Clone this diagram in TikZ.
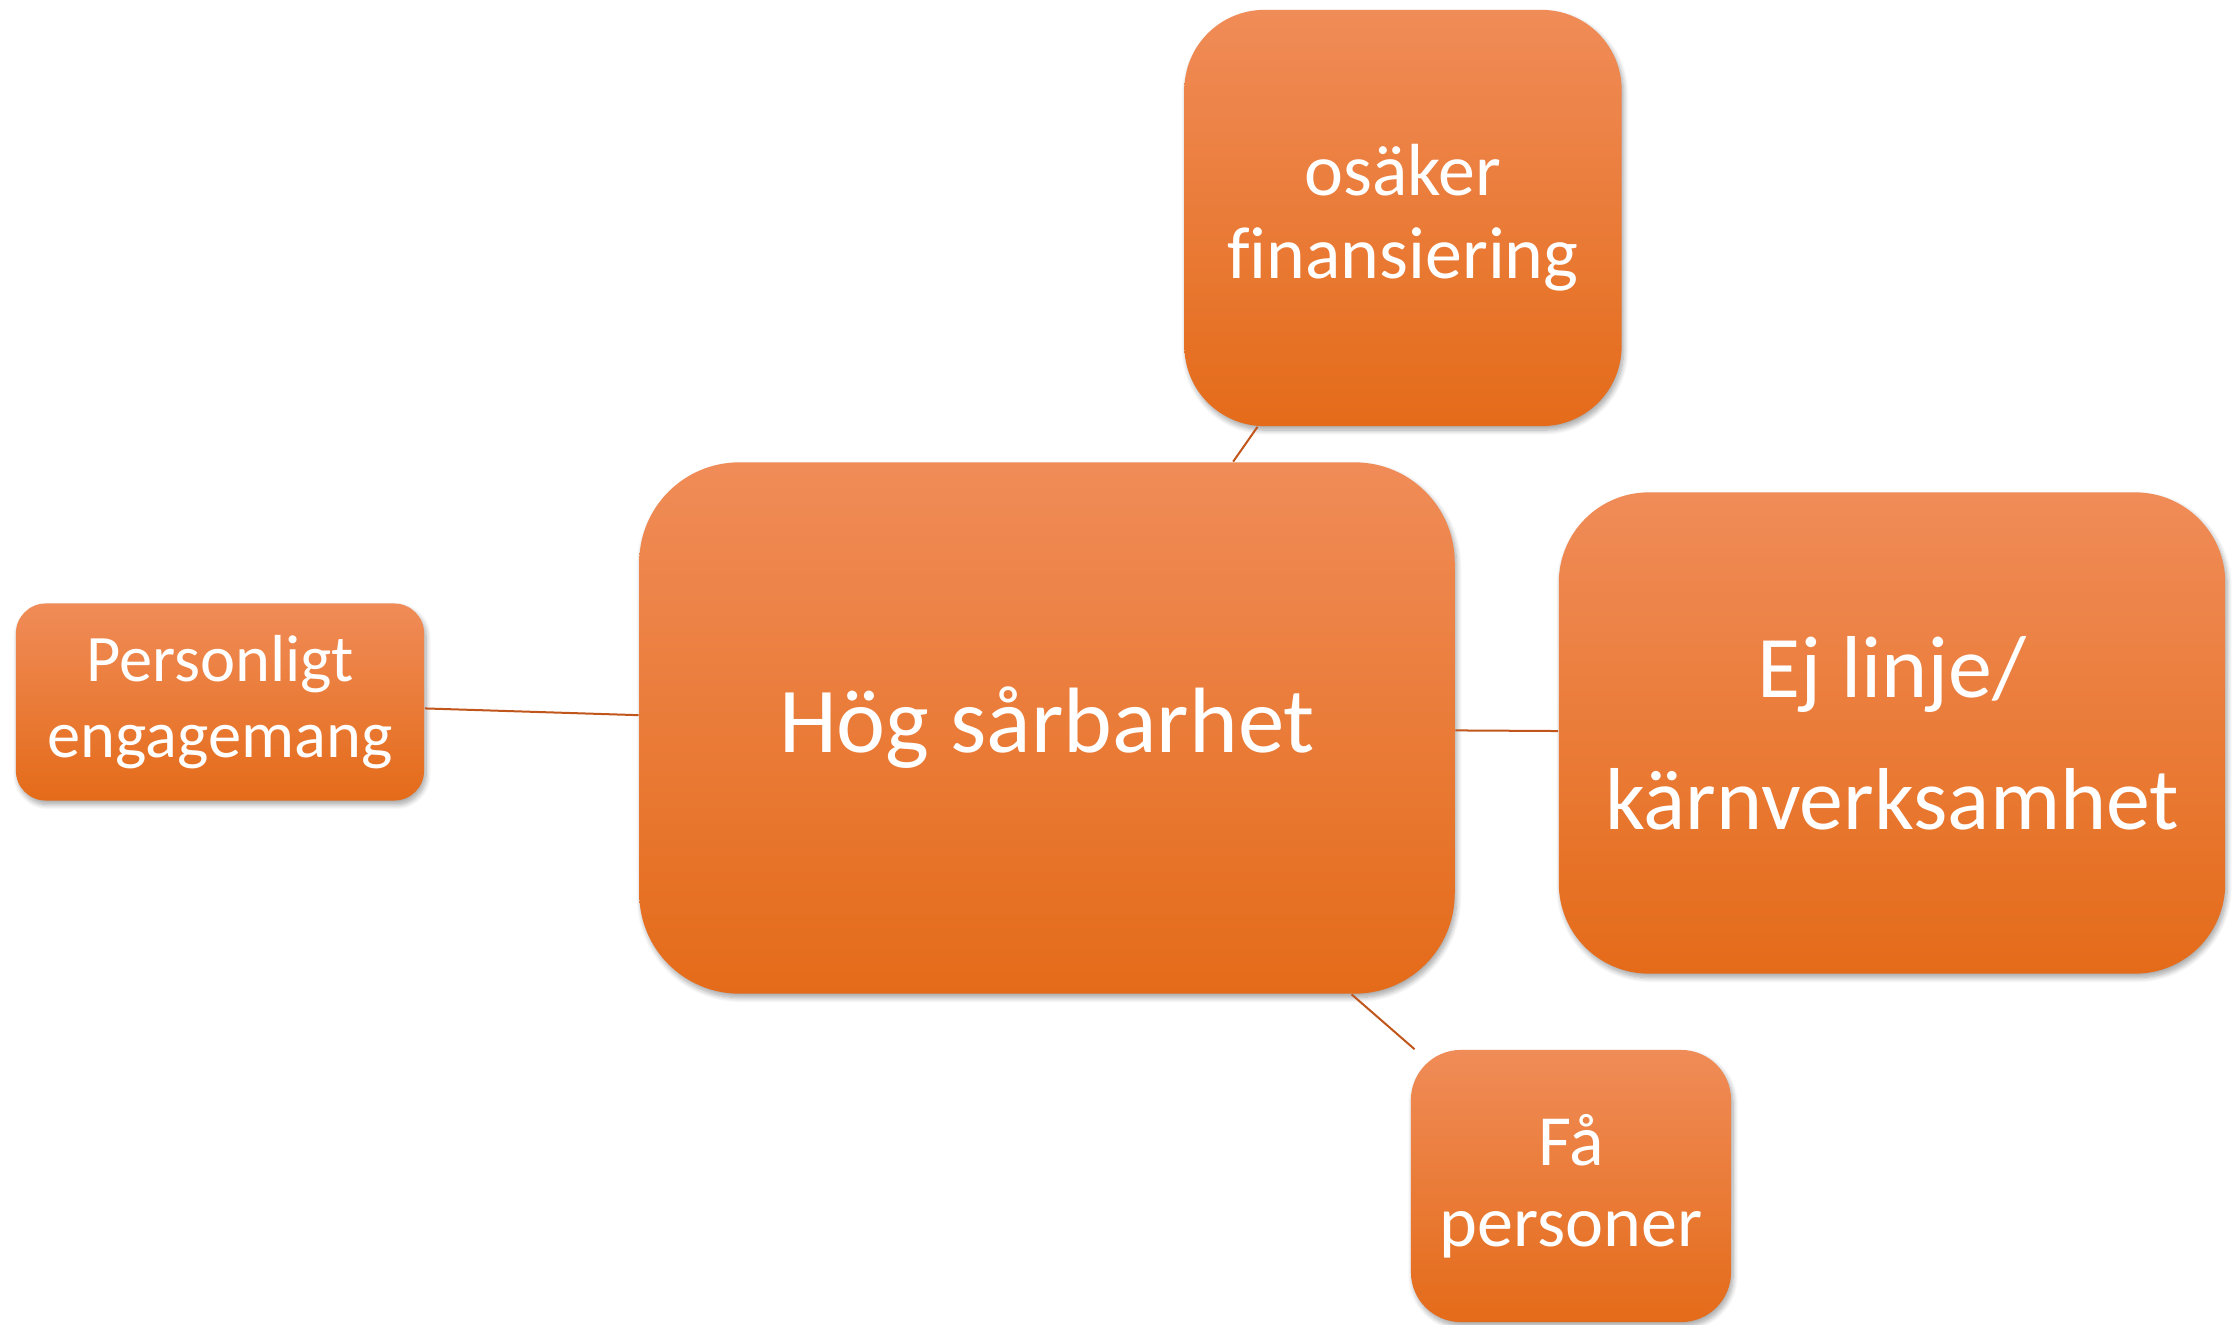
\documentclass[tikz,border=0pt]{standalone}
\usepackage{fontspec}
\setmainfont{Carlito}[Ligatures=NoCommon]
\usetikzlibrary{shadows.blur}
\definecolor{boxtop}{RGB}{240,140,88}
\definecolor{boxmid}{RGB}{245,127,48}
\definecolor{boxbot}{RGB}{228,107,25}
\definecolor{linkcol}{RGB}{192,86,27}
\tikzset{
  box/.style={rectangle, draw=none, text=white, align=center, inner sep=0pt,
    top color=boxtop, middle color=boxmid, bottom color=boxbot,
    blur shadow={shadow xshift=0.02cm, shadow yshift=-0.04cm,
      shadow blur radius=0.05cm, shadow blur steps=8, shadow opacity=35}},
  link/.style={draw=linkcol, line width=0.02cm}
}
\begin{document}
\begin{tikzpicture}[x=0.01cm, y=0.01cm]
\useasboundingbox (0,-1324) rectangle (2239,0);
\node[box, minimum width=8.15cm, minimum height=5.31cm, rounded corners=1cm,
  font=\fontsize{26.4}{32}\selectfont] (hog) at (1047,-728) {Hög sårbarhet};
\node[box, minimum width=4.37cm, minimum height=4.16cm, rounded corners=0.8cm,
  font=\fontsize{21}{23.5}\selectfont] (osaker) at (1403,-218) {osäker\\finansiering};
\node[box, minimum width=6.66cm, minimum height=4.81cm, rounded corners=0.9cm,
  font=\fontsize{25}{37.5}\selectfont] (ejlinje) at (1892,-733) {Ej linje/\\kärnverksamhet};
\node[box, minimum width=4.08cm, minimum height=1.97cm, rounded corners=0.3cm,
  font=\fontsize{18.9}{21.5}\selectfont] (personligt) at (220,-702) {Personligt\\engagemang};
\node[box, minimum width=3.20cm, minimum height=2.72cm, rounded corners=0.5cm,
  font=\fontsize{20.5}{23}\selectfont] (fa) at (1571,-1186) {Få\\personer};
\draw[link] (hog) -- (osaker);
\draw[link] (hog) -- (ejlinje);
\draw[link] (hog) -- (personligt);
\draw[link] (hog) -- (fa);
\end{tikzpicture}
\end{document}
